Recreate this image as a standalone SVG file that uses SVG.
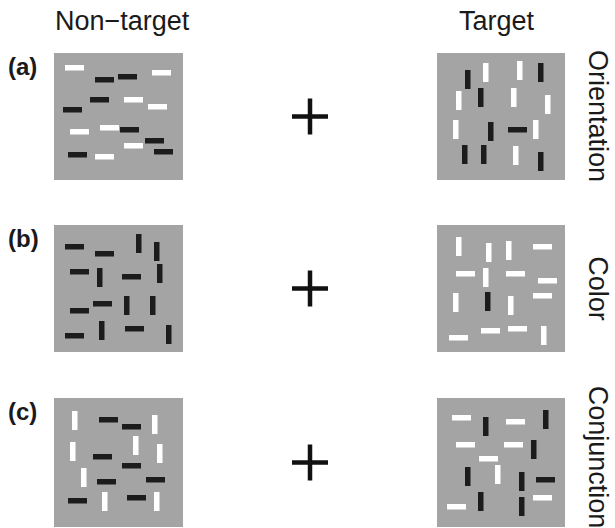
<svg xmlns="http://www.w3.org/2000/svg" width="615" height="528" viewBox="0 0 615 528">
<style>
.bg{fill:#a4a4a4}
.k{fill:#1c1c1c}
.w{fill:#ffffff}
.t{font-family:"Liberation Sans",Arial,sans-serif;fill:#1a1a1a}
.hd{font-size:27px}
.lb{font-size:24px;font-weight:bold}
.rl{font-size:27px}
.plus{stroke:#111;stroke-width:4.5;fill:none}
</style>
<defs>
<rect id="h" width="19" height="5.5"/>
<rect id="v" width="5.5" height="19"/>
</defs>
<rect width="615" height="528" fill="#fff"/>
<g id="headers">
<text class="t hd" x="55" y="30">Non−target</text>
<text class="t hd" x="459" y="30">Target</text>
</g>
<g id="row-labels">
<text class="t lb" x="8" y="75">(a)</text>
<text class="t lb" x="8" y="247">(b)</text>
<text class="t lb" x="8" y="420">(c)</text>
</g>
<g id="condition-labels">
<text class="t rl" text-anchor="middle" transform="translate(589,116) rotate(90)">Orientation</text>
<text class="t rl" text-anchor="middle" transform="translate(589,288.5) rotate(90)">Color</text>
<text class="t rl" text-anchor="middle" transform="translate(589,457) rotate(90)">Conjunction</text>
</g>
<g id="plus-signs">
<path class="plus" d="M292 116.5H328M310 98.5V134.5"/>
<path class="plus" d="M292 288.5H328M310 270.5V306.5"/>
<path class="plus" d="M292 462.5H328M310 444.5V480.5"/>
</g>
<g id="panel-a-nontarget">
<rect class="bg" x="54" y="53" width="129" height="127"/>
<use href="#h" class="w" x="65" y="65"/><use href="#h" class="w" x="152" y="70"/><use href="#h" class="w" x="124" y="97"/><use href="#h" class="w" x="148" y="104"/>
<use href="#h" class="w" x="70" y="129"/><use href="#h" class="w" x="100" y="125"/><use href="#h" class="w" x="124" y="143"/><use href="#h" class="w" x="95" y="154"/>
<use href="#h" class="k" x="95" y="77"/><use href="#h" class="k" x="118" y="74"/><use href="#h" class="k" x="90" y="97"/><use href="#h" class="k" x="63" y="107"/>
<use href="#h" class="k" x="120" y="127"/><use href="#h" class="k" x="145" y="138"/><use href="#h" class="k" x="154" y="149"/><use href="#h" class="k" x="68" y="152"/>
</g>
<g id="panel-a-target">
<rect class="bg" x="437" y="53" width="128" height="127"/>
<use href="#v" class="k" x="465" y="70"/><use href="#v" class="k" x="478" y="88"/><use href="#v" class="k" x="538" y="63"/><use href="#v" class="k" x="488" y="122"/>
<use href="#v" class="k" x="462" y="145"/><use href="#v" class="k" x="481" y="145"/><use href="#v" class="k" x="538" y="152"/><use href="#h" class="k" x="508" y="127"/>
<use href="#v" class="w" x="483" y="63"/><use href="#v" class="w" x="517" y="61"/><use href="#v" class="w" x="456" y="91"/><use href="#v" class="w" x="511" y="88"/>
<use href="#v" class="w" x="545" y="95"/><use href="#v" class="w" x="453" y="120"/><use href="#v" class="w" x="533" y="120"/><use href="#v" class="w" x="513" y="146"/>
</g>
<g id="panel-b-nontarget">
<rect class="bg" x="54" y="225" width="129" height="127"/>
<use href="#h" class="k" x="65" y="244"/><use href="#h" class="k" x="95" y="251"/><use href="#h" class="k" x="70" y="269"/><use href="#h" class="k" x="122" y="274"/>
<use href="#h" class="k" x="93" y="301"/><use href="#h" class="k" x="70" y="308"/><use href="#h" class="k" x="65" y="333"/><use href="#h" class="k" x="125" y="326"/>
<use href="#v" class="k" x="136" y="234"/><use href="#v" class="k" x="154" y="242"/><use href="#v" class="k" x="97" y="268"/><use href="#v" class="k" x="157" y="264"/>
<use href="#v" class="k" x="124" y="296"/><use href="#v" class="k" x="150" y="296"/><use href="#v" class="k" x="99" y="321"/><use href="#v" class="k" x="166" y="325"/>
</g>
<g id="panel-b-target">
<rect class="bg" x="437" y="225" width="128" height="127"/>
<use href="#v" class="w" x="456" y="237"/><use href="#v" class="w" x="486" y="243"/><use href="#v" class="w" x="506" y="241"/><use href="#v" class="w" x="483" y="268"/>
<use href="#v" class="w" x="453" y="293"/><use href="#v" class="w" x="508" y="296"/><use href="#v" class="w" x="541" y="326"/>
<use href="#h" class="w" x="533" y="244"/><use href="#h" class="w" x="456" y="271"/><use href="#h" class="w" x="506" y="271"/><use href="#h" class="w" x="538" y="278"/>
<use href="#h" class="w" x="533" y="293"/><use href="#h" class="w" x="481" y="328"/><use href="#h" class="w" x="508" y="326"/><use href="#h" class="w" x="449" y="335"/>
<use href="#v" class="k" x="485" y="292"/>
</g>
<g id="panel-c-nontarget">
<rect class="bg" x="54" y="398" width="129" height="129"/>
<use href="#v" class="w" x="72" y="411"/><use href="#v" class="w" x="152" y="415"/><use href="#v" class="w" x="133" y="436"/><use href="#v" class="w" x="70" y="442"/>
<use href="#v" class="w" x="157" y="444"/><use href="#v" class="w" x="81" y="468"/><use href="#v" class="w" x="102" y="492"/><use href="#v" class="w" x="154" y="492"/>
<use href="#h" class="k" x="99" y="417"/><use href="#h" class="k" x="122" y="424"/><use href="#h" class="k" x="93" y="454"/><use href="#h" class="k" x="122" y="463"/>
<use href="#h" class="k" x="97" y="479"/><use href="#h" class="k" x="146" y="477"/><use href="#h" class="k" x="68" y="498"/><use href="#h" class="k" x="127" y="495"/>
</g>
<g id="panel-c-target">
<rect class="bg" x="437" y="398" width="128" height="129"/>
<use href="#h" class="w" x="452" y="415"/><use href="#h" class="w" x="506" y="419"/><use href="#h" class="w" x="456" y="442"/><use href="#h" class="w" x="504" y="442"/>
<use href="#h" class="w" x="479" y="456"/><use href="#h" class="w" x="533" y="495"/><use href="#h" class="w" x="447" y="504"/><use href="#v" class="w" x="495" y="465"/>
<use href="#v" class="k" x="483" y="417"/><use href="#v" class="k" x="543" y="410"/><use href="#v" class="k" x="531" y="440"/><use href="#v" class="k" x="465" y="467"/>
<use href="#v" class="k" x="519" y="472"/><use href="#v" class="k" x="478" y="492"/><use href="#v" class="k" x="519" y="497"/><use href="#h" class="k" x="536" y="477"/>
</g>
</svg>
